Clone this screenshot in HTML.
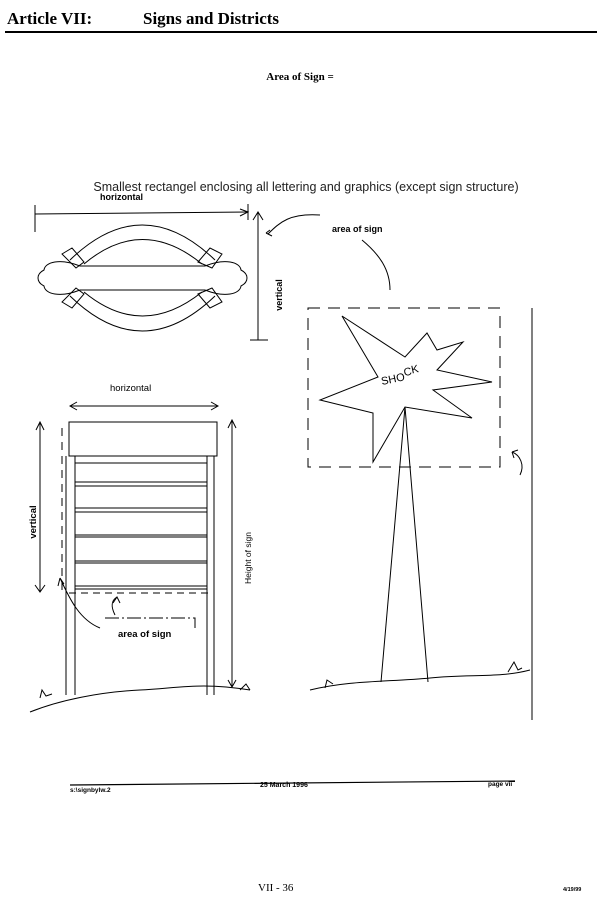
<!DOCTYPE html>
<html><head><meta charset="utf-8"><style>
html,body{margin:0;padding:0;background:#fff;width:600px;height:914px;overflow:hidden}
svg{display:block}
.s{font-family:"Liberation Sans",sans-serif}
.r{font-family:"Liberation Serif",serif}
</style></head><body>
<svg width="600" height="914" viewBox="0 0 600 914" xmlns="http://www.w3.org/2000/svg">
<g fill="#000">
<text x="7" y="24" class="r" font-size="17" font-weight="bold">Article VII:</text>
<text x="143" y="24" class="r" font-size="17" font-weight="bold">Signs and Districts</text>
<text x="300" y="80" class="r" font-size="11" font-weight="bold" text-anchor="middle">Area of Sign =</text>
<text x="306" y="191" class="s" font-size="12.5" text-anchor="middle" fill="#222">Smallest rectangel enclosing all lettering and graphics (except sign structure)</text>
<text x="100" y="200" class="s" font-size="9" font-weight="bold">horizontal</text>
<text x="332" y="232" class="s" font-size="9" font-weight="bold">area of sign</text>
<text x="282" y="295" class="s" font-size="9" font-weight="bold" transform="rotate(-90 282 295)" text-anchor="middle">vertical</text>
<text x="110" y="391" class="s" font-size="9.5">horizontal</text>
<text x="36" y="522" class="s" font-size="9.5" font-weight="bold" transform="rotate(-90 36 522)" text-anchor="middle">vertical</text>
<text x="251" y="558" class="s" font-size="8.5" transform="rotate(-90 251 558)" text-anchor="middle">Height of sign</text>
<text x="118" y="637" class="s" font-size="9.5" font-weight="bold">area of sign</text>
<text x="382" y="385" class="s" font-size="11" transform="rotate(-12 382 385)">SHO<tspan dy="-4">C</tspan><tspan dy="-1">K</tspan></text>
<text x="70" y="792" class="s" font-size="6.5" font-weight="bold">s:\signbylw.2</text>
<text x="260" y="787" class="s" font-size="7" font-weight="bold">25 March 1996</text>
<text x="488" y="786" class="s" font-size="6.5" font-weight="bold">page vii</text>
<text x="258" y="891" class="r" font-size="11">VII - 36</text>
<text x="563" y="891" class="s" font-size="5.5" font-weight="bold">4/19/99</text>
</g>
<g fill="none" stroke="#000" stroke-width="1">
<line x1="5" y1="32" x2="597" y2="32" stroke-width="2"/>
<line x1="35" y1="214" x2="248" y2="212"/>
<line x1="35" y1="205" x2="35" y2="232"/>
<line x1="248" y1="204" x2="248" y2="220"/>
<path d="M240 209 L248 212 L240 216"/>
<line x1="258" y1="212" x2="258" y2="340"/>
<path d="M253 220 L258 212 L263 220"/>
<line x1="250" y1="340" x2="268" y2="340"/>
<path d="M268 234 C280 222 290 213 320 215"/>
<path d="M272 236 L266 233 M266 233 L270 230"/>
<path d="M362 240 C380 255 390 270 390 290"/>
<path d="M70 260 Q142 190 215 260 M84 264 Q142 215 202 264"/>
<path d="M70 296 Q142 366 215 296 M84 292 Q142 340 202 292"/>
<path d="M80 266 L205 266 M80 290 L205 290"/>
<path d="M80 266 C60 258 45 262 44 270 C36 274 36 282 44 286 C45 294 60 298 80 290"/>
<path d="M205 266 C225 258 240 262 241 270 C249 274 249 282 241 286 C240 294 225 298 205 290"/>
<path d="M62 254 L72 248 L84 262 L76 268 Z M198 262 L210 248 L222 254 L212 268 Z M62 302 L72 308 L84 294 L76 288 Z M198 294 L210 308 L222 302 L212 288 Z"/>
<line x1="70" y1="406" x2="218" y2="406"/>
<path d="M77 402 L70 406 L77 410 M211 402 L218 406 L211 410"/>
<rect x="69" y="422" width="148" height="34"/>
<line x1="66" y1="456" x2="66" y2="695"/>
<line x1="75" y1="456" x2="75" y2="695"/>
<line x1="207" y1="456" x2="207" y2="695"/>
<line x1="214" y1="456" x2="214" y2="695"/>
<path d="M75 463 H207 M75 482 H207 M75 486 H207 M75 508 H207 M75 512 H207 M75 535 H207 M75 537 H207 M75 561 H207 M75 563 H207 M75 586 H207 M75 589 H207"/>
<line x1="69" y1="593" x2="212" y2="593" stroke-dasharray="7 5"/>
<line x1="62" y1="428" x2="62" y2="590" stroke-dasharray="8 6"/>
<line x1="40" y1="422" x2="40" y2="592"/>
<path d="M36 430 L40 422 L44 430 M35 585 L40 592 L45 585"/>
<line x1="232" y1="420" x2="232" y2="687"/>
<path d="M228 428 L232 420 L236 428 M228 680 L232 687 L236 680"/>
<path d="M100 628 C80 620 70 600 60 578 M60 578 L58 586 M60 578 L64 584"/>
<path d="M115 615 C110 605 112 600 117 597 M113 603 L117 597 L120 603"/>
<path d="M105 618 H195 V628" stroke-dasharray="14 3 2 3"/>
<path d="M30 712 C60 700 100 692 140 690 C180 688 200 682 250 690"/>
<path d="M40 698 L42 690 L46 696 L52 694 M240 690 L246 684 L250 690"/>
<rect x="308" y="308" width="192" height="159" stroke-dasharray="12 8"/>
<line x1="532" y1="308" x2="532" y2="720"/>
<path d="M342 316 L405 357 L427 333 L437 350 L463 342 L437 370 L492 382 L433 390 L472 418 L405 407 L373 462 L373 413 L320 400 L378 377 Z"/>
<line x1="405" y1="407" x2="381" y2="682"/>
<line x1="405" y1="407" x2="428" y2="682"/>
<path d="M520 475 C525 465 520 455 512 452 M512 452 L518 450 M512 452 L514 458"/>
<path d="M310 690 C350 680 390 682 430 678 C470 674 500 678 530 670"/>
<path d="M325 688 L327 680 L333 684 M508 672 L514 662 L518 670 L522 668"/>
<path d="M70 785 L515 781" stroke-width="1.2"/>
</g>
</svg>
</body></html>
